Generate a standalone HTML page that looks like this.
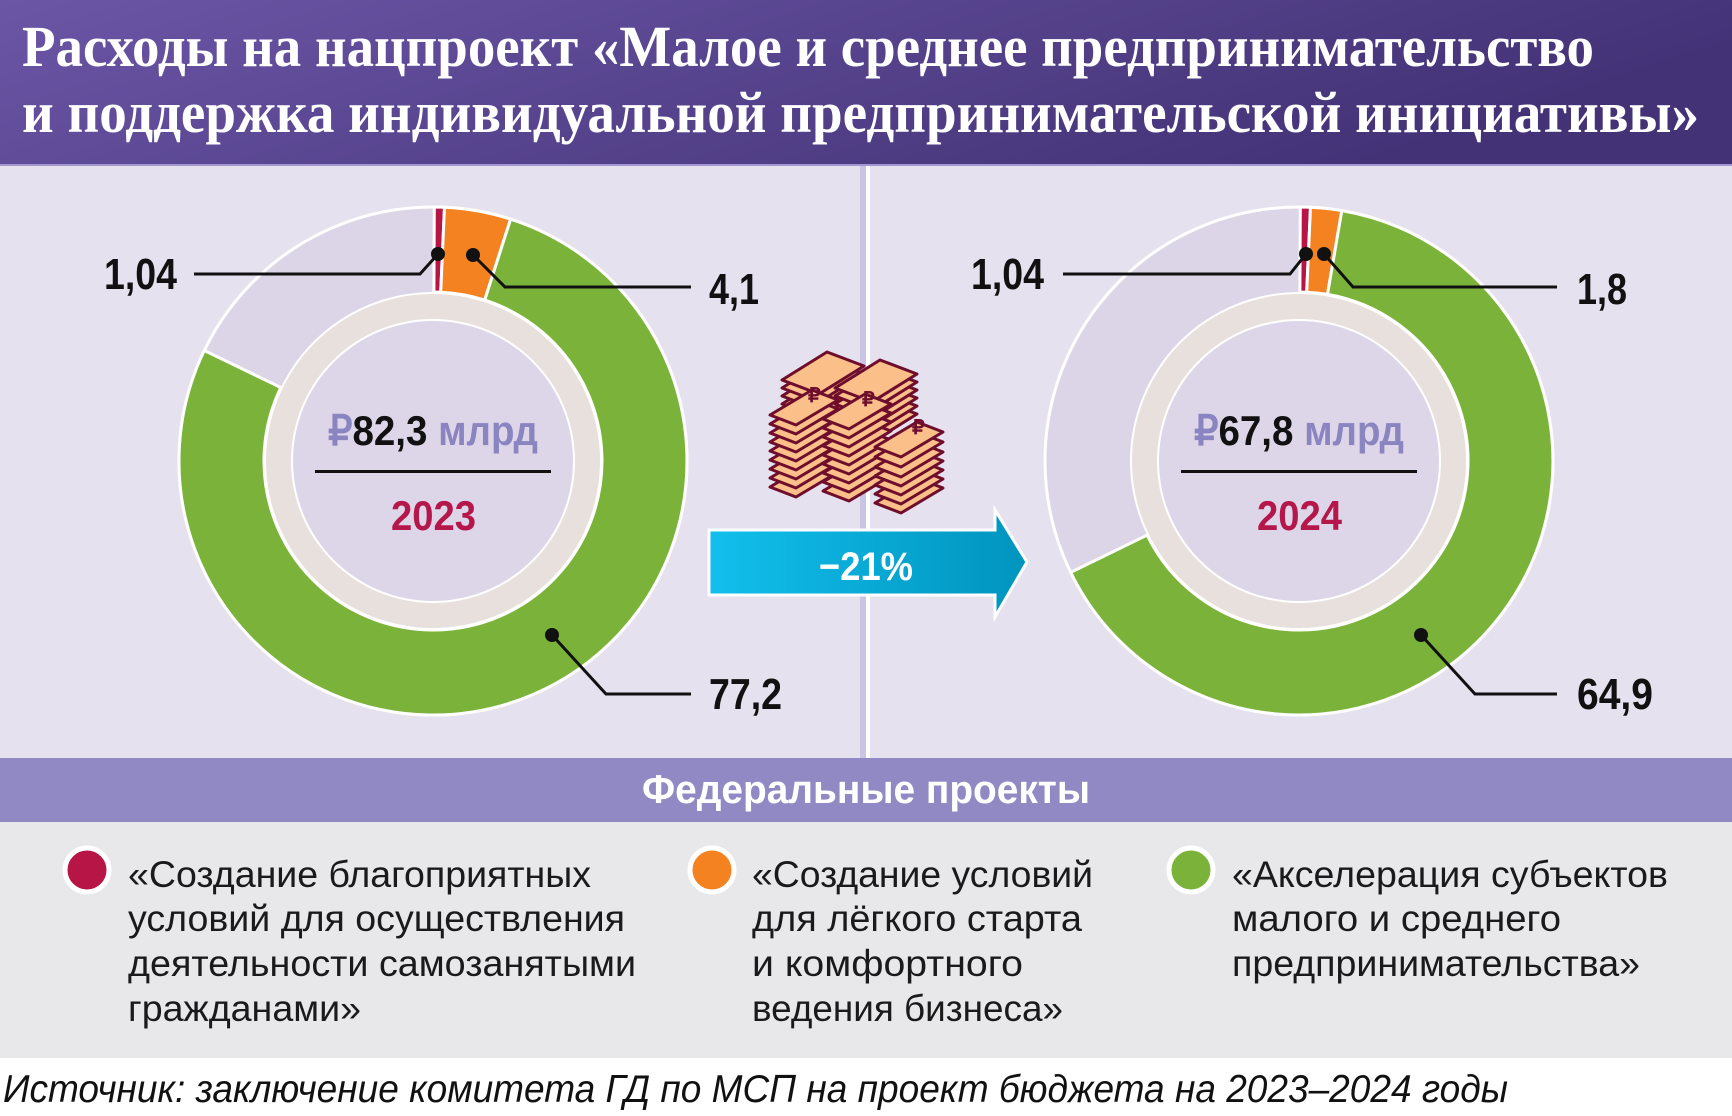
<!DOCTYPE html>
<html><head><meta charset="utf-8"><style>
html,body{margin:0;padding:0;background:#fff}
svg{display:block}
</style></head><body>
<svg width="1732" height="1116" viewBox="0 0 1732 1116" xmlns="http://www.w3.org/2000/svg">
<defs>
<linearGradient id="hg" x1="0" y1="0" x2="1" y2="0.3">
<stop offset="0" stop-color="#6b56a6"/><stop offset="1" stop-color="#433276"/></linearGradient>
<linearGradient id="ag" x1="0" y1="0" x2="1" y2="0">
<stop offset="0" stop-color="#12bfec"/><stop offset="1" stop-color="#0094be"/></linearGradient>
</defs>
<rect x="0" y="0" width="1732" height="1116" fill="#fff"/>
<rect x="0" y="0" width="1732" height="166" fill="url(#hg)"/>
<rect x="0" y="164" width="1732" height="2" fill="#a497cf"/>
<g font-family="'Liberation Serif',serif" fill="#fff" font-size="58" font-weight="bold">
<text x="22" y="66" textLength="1572" lengthAdjust="spacingAndGlyphs">Расходы на нацпроект «Малое и среднее предпринимательство</text>
<text x="22" y="132" textLength="1677" lengthAdjust="spacingAndGlyphs">и поддержка индивидуальной предпринимательской инициативы»</text>
</g>
<rect x="0" y="166" width="1732" height="592" fill="#e6e1ef"/>
<rect x="860" y="166" width="6" height="592" fill="#c9c5e2"/>
<rect x="866" y="166" width="4" height="592" fill="#fff"/>

<circle cx="433" cy="461" r="254" fill="#dcd5e8" stroke="#fff" stroke-width="3"/>
<g stroke="#fff" stroke-width="3" stroke-linejoin="round">
<path d="M434.3,207 A254,254 0 0 1 444.5,207.3 L440.7,292.2 A169,169 0 0 0 433.9,292 Z" fill="#b71546"/>
<path d="M444.5,207.3 A254,254 0 0 1 510.6,219.2 L484.7,300.1 A169,169 0 0 0 440.7,292.2 Z" fill="#f58220"/>
<path d="M510.6,219.2 A254,254 0 1 1 204.3,350.5 L280.8,387.5 A169,169 0 1 0 484.7,300.1 Z" fill="#7bb33a"/>
</g>
<circle cx="433" cy="461" r="169" fill="#fff"/>
<circle cx="433" cy="461" r="167" fill="#e8e0dd"/>
<circle cx="433" cy="461" r="142" fill="#fff"/>
<circle cx="433" cy="461" r="140" fill="#ddd6e8"/>
<circle cx="1299" cy="461" r="254" fill="#dcd5e8" stroke="#fff" stroke-width="3"/>
<g stroke="#fff" stroke-width="3" stroke-linejoin="round">
<path d="M1300.3,207 A254,254 0 0 1 1310.5,207.3 L1306.7,292.2 A169,169 0 0 0 1299.9,292 Z" fill="#b71546"/>
<path d="M1310.5,207.3 A254,254 0 0 1 1341.8,210.6 L1327.5,294.4 A169,169 0 0 0 1306.7,292.2 Z" fill="#f58220"/>
<path d="M1341.8,210.6 A254,254 0 1 1 1070.7,572.4 L1147.1,535.1 A169,169 0 1 0 1327.5,294.4 Z" fill="#7bb33a"/>
</g>
<circle cx="1299" cy="461" r="169" fill="#fff"/>
<circle cx="1299" cy="461" r="167" fill="#e8e0dd"/>
<circle cx="1299" cy="461" r="142" fill="#fff"/>
<circle cx="1299" cy="461" r="140" fill="#ddd6e8"/>

<g stroke="#111" stroke-width="3" fill="none">
<polyline points="438,254 420,274 194,274"/>
<polyline points="473,255 505,287 691,287"/>
<polyline points="552,635 606,694 691,694"/>
<polyline points="1306,254 1290,274 1063,274"/>
<polyline points="1324,254 1353,287 1557,287"/>
<polyline points="1421,635 1475,694 1557,694"/>
</g>
<g fill="#111">
<circle cx="438" cy="254" r="7"/><circle cx="473" cy="255" r="7"/><circle cx="552" cy="635" r="7"/>
<circle cx="1306" cy="254" r="7"/><circle cx="1324" cy="254" r="7"/><circle cx="1421" cy="635" r="7"/>
</g>
<g font-family="'Liberation Sans',sans-serif" font-weight="bold" font-size="44" fill="#111">
<text x="104" y="289" textLength="73" lengthAdjust="spacingAndGlyphs">1,04</text>
<text x="709" y="304" textLength="50" lengthAdjust="spacingAndGlyphs">4,1</text>
<text x="709" y="709" textLength="73" lengthAdjust="spacingAndGlyphs">77,2</text>
<text x="971" y="289" textLength="73" lengthAdjust="spacingAndGlyphs">1,04</text>
<text x="1577" y="304" textLength="50" lengthAdjust="spacingAndGlyphs">1,8</text>
<text x="1577" y="709" textLength="76" lengthAdjust="spacingAndGlyphs">64,9</text>
</g>
<g font-family="'Liberation Sans',sans-serif" font-weight="bold" font-size="42">
<text x="328" y="445" textLength="210" lengthAdjust="spacingAndGlyphs"><tspan fill="#8a84c0">₽</tspan><tspan fill="#111">82,3 </tspan><tspan fill="#8a84c0">млрд</tspan></text>
<text x="391" y="530" textLength="85" lengthAdjust="spacingAndGlyphs" fill="#b5174a">2023</text>
<text x="1194" y="445" textLength="210" lengthAdjust="spacingAndGlyphs"><tspan fill="#8a84c0">₽</tspan><tspan fill="#111">67,8 </tspan><tspan fill="#8a84c0">млрд</tspan></text>
<text x="1257" y="530" textLength="85" lengthAdjust="spacingAndGlyphs" fill="#b5174a">2024</text>
</g>
<rect x="315" y="470" width="236" height="3" fill="#111"/>
<rect x="1181" y="470" width="236" height="3" fill="#111"/>

<g stroke="#6e0e2c" stroke-width="3" fill="#fbbf8a" stroke-linejoin="round">
<g transform="translate(822,372)">
<path d="M-40,8 L5,-20 L42,-6 L-3,22 Z" transform="translate(0,40)"/><path d="M-40,8 L5,-20 L42,-6 L-3,22 Z" transform="translate(0,32)"/><path d="M-40,8 L5,-20 L42,-6 L-3,22 Z" transform="translate(0,24)"/><path d="M-40,8 L5,-20 L42,-6 L-3,22 Z" transform="translate(0,16)"/><path d="M-40,8 L5,-20 L42,-6 L-3,22 Z" transform="translate(0,8)"/><path d="M-40,8 L5,-20 L42,-6 L-3,22 Z"/>
</g>
<g transform="translate(875,380)">
<path d="M-40,8 L5,-20 L42,-6 L-3,22 Z" transform="translate(0,40)"/><path d="M-40,8 L5,-20 L42,-6 L-3,22 Z" transform="translate(0,32)"/><path d="M-40,8 L5,-20 L42,-6 L-3,22 Z" transform="translate(0,24)"/><path d="M-40,8 L5,-20 L42,-6 L-3,22 Z" transform="translate(0,16)"/><path d="M-40,8 L5,-20 L42,-6 L-3,22 Z" transform="translate(0,8)"/><path d="M-40,8 L5,-20 L42,-6 L-3,22 Z"/>
</g>
<g transform="translate(800,410)">
<path d="M-30,5 L12,-20 L38,-10 L-4,15 Z" transform="translate(0,72)"/><path d="M-30,5 L12,-20 L38,-10 L-4,15 Z" transform="translate(0,63)"/><path d="M-30,5 L12,-20 L38,-10 L-4,15 Z" transform="translate(0,54)"/><path d="M-30,5 L12,-20 L38,-10 L-4,15 Z" transform="translate(0,45)"/><path d="M-30,5 L12,-20 L38,-10 L-4,15 Z" transform="translate(0,36)"/><path d="M-30,5 L12,-20 L38,-10 L-4,15 Z" transform="translate(0,27)"/><path d="M-30,5 L12,-20 L38,-10 L-4,15 Z" transform="translate(0,18)"/><path d="M-30,5 L12,-20 L38,-10 L-4,15 Z" transform="translate(0,9)"/><path d="M-30,5 L12,-20 L38,-10 L-4,15 Z"/>
</g>
<g transform="translate(853,414)">
<path d="M-30,5 L12,-20 L38,-10 L-4,15 Z" transform="translate(0,72)"/><path d="M-30,5 L12,-20 L38,-10 L-4,15 Z" transform="translate(0,63)"/><path d="M-30,5 L12,-20 L38,-10 L-4,15 Z" transform="translate(0,54)"/><path d="M-30,5 L12,-20 L38,-10 L-4,15 Z" transform="translate(0,45)"/><path d="M-30,5 L12,-20 L38,-10 L-4,15 Z" transform="translate(0,36)"/><path d="M-30,5 L12,-20 L38,-10 L-4,15 Z" transform="translate(0,27)"/><path d="M-30,5 L12,-20 L38,-10 L-4,15 Z" transform="translate(0,18)"/><path d="M-30,5 L12,-20 L38,-10 L-4,15 Z" transform="translate(0,9)"/><path d="M-30,5 L12,-20 L38,-10 L-4,15 Z"/>
</g>
<g transform="translate(905,442)">
<path d="M-30,5 L12,-20 L38,-10 L-4,15 Z" transform="translate(0,56)"/><path d="M-30,5 L12,-20 L38,-10 L-4,15 Z" transform="translate(0,47)"/><path d="M-30,5 L12,-20 L38,-10 L-4,15 Z" transform="translate(0,38)"/><path d="M-30,5 L12,-20 L38,-10 L-4,15 Z" transform="translate(0,29)"/><path d="M-30,5 L12,-20 L38,-10 L-4,15 Z" transform="translate(0,20)"/><path d="M-30,5 L12,-20 L38,-10 L-4,15 Z" transform="translate(0,10)"/><path d="M-30,5 L12,-20 L38,-10 L-4,15 Z"/>
</g>
</g>
<g font-family="'Liberation Sans',sans-serif" font-weight="bold" font-size="20" fill="#6e0e2c">
<text x="808" y="402">₽</text><text x="862" y="406">₽</text><text x="912" y="434">₽</text>
</g>

<polygon points="709,530 995,530 995,510 1027,562 995,617 995,595 709,595" fill="url(#ag)" stroke="#fff" stroke-width="3"/>
<text x="866" y="580" text-anchor="middle" font-family="'Liberation Sans',sans-serif" font-weight="bold" font-size="40" fill="#fff" textLength="94" lengthAdjust="spacingAndGlyphs">−21%</text>

<rect x="0" y="758" width="1732" height="64" fill="#9089c4"/>
<text x="642" y="803" font-family="'Liberation Sans',sans-serif" font-weight="bold" font-size="40" fill="#fff" textLength="448" lengthAdjust="spacingAndGlyphs">Федеральные проекты</text>
<rect x="0" y="822" width="1732" height="236" fill="#e8e7ea"/>
<g stroke="#fff" stroke-width="5">
<circle cx="87" cy="870" r="22" fill="#b71546"/>
<circle cx="712" cy="870" r="22" fill="#f58220"/>
<circle cx="1191" cy="870" r="22" fill="#7bb33a"/>
</g>
<g font-family="'Liberation Sans',sans-serif" font-size="37" fill="#1a1a1a">
<text x="128" y="887" textLength="463" lengthAdjust="spacingAndGlyphs">«Создание благоприятных</text>
<text x="128" y="931" textLength="497" lengthAdjust="spacingAndGlyphs">условий для осуществления</text>
<text x="128" y="976" textLength="508" lengthAdjust="spacingAndGlyphs">деятельности самозанятыми</text>
<text x="128" y="1021" textLength="233" lengthAdjust="spacingAndGlyphs">гражданами»</text>
<text x="752" y="887" textLength="341" lengthAdjust="spacingAndGlyphs">«Создание условий</text>
<text x="752" y="931" textLength="330" lengthAdjust="spacingAndGlyphs">для лёгкого старта</text>
<text x="752" y="976" textLength="271" lengthAdjust="spacingAndGlyphs">и комфортного</text>
<text x="752" y="1021" textLength="311" lengthAdjust="spacingAndGlyphs">ведения бизнеса»</text>
<text x="1232" y="887" textLength="436" lengthAdjust="spacingAndGlyphs">«Акселерация субъектов</text>
<text x="1232" y="931" textLength="329" lengthAdjust="spacingAndGlyphs">малого и среднего</text>
<text x="1232" y="976" textLength="408" lengthAdjust="spacingAndGlyphs">предпринимательства»</text>
</g>
<text x="3" y="1102" font-family="'Liberation Sans',sans-serif" font-style="italic" font-size="39" fill="#111" textLength="1505" lengthAdjust="spacingAndGlyphs">Источник: заключение комитета ГД по МСП на проект бюджета на 2023–2024 годы</text>
</svg>
</body></html>
